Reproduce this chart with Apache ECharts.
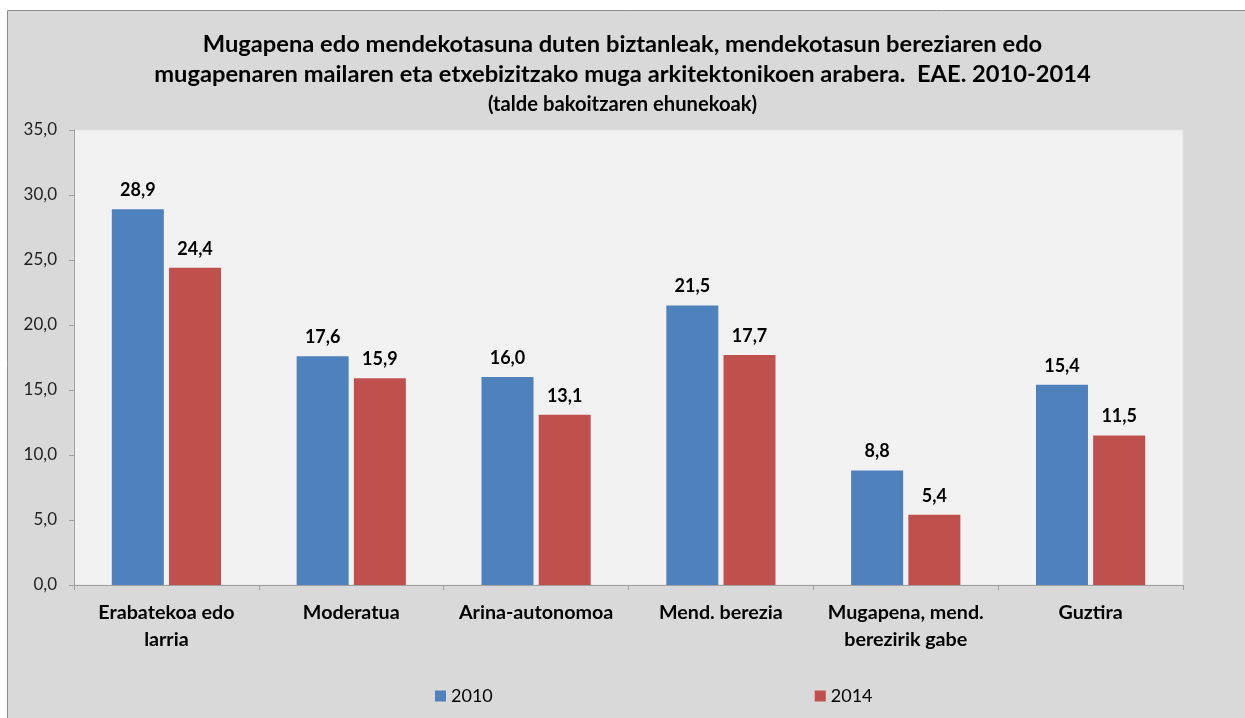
<!DOCTYPE html>
<html>
<head>
<meta charset="utf-8">
<script src="https://cdn.jsdelivr.net/npm/echarts@6/dist/echarts.min.js"></script>
<style>
html,body{margin:0;padding:0;background:#ffffff;}
#chart{width:1245px;height:718px;}
</style>
</head>
<body>
<div id="chart"></div>
<script>
const categories = ["Erabatekoa edo\nlarria", "Moderatua", "Arina-autonomoa", "Mend. berezia", "Mugapena, mend.\nberezirik gabe", "Guztira"];
const values2010 = [28.9, 17.6, 16.0, 21.5, 8.8, 15.4];
const values2014 = [24.4, 15.9, 13.1, 17.7, 5.4, 11.5];
const seriesNames = ["2010", "2014"];
const titleLines = ["Mugapena edo mendekotasuna duten biztanleak, mendekotasun bereziaren edo", "mugapenaren mailaren eta etxebizitzako muga arkitektonikoen arabera.  EAE. 2010-2014"];
const subtitle = "(talde bakoitzaren ehunekoak)";

const FONT = "Lato";
const fmt = v => v.toFixed(1).replace('.', ',');

const chart = echarts.init(document.getElementById('chart'));
chart.setOption({
  backgroundColor: '#ffffff',
  animation: false,
  textStyle: { fontFamily: FONT },
  graphic: [{
    type: 'rect',
    z: -100,
    shape: { x: 7.5, y: 10.5, width: 1300, height: 800 },
    style: { fill: '#d9d9d9', stroke: '#8c8c8c', lineWidth: 1 }
  }],
  title: {
    text: titleLines.join('\n'),
    subtext: subtitle,
    left: 'center',
    top: 24,
    itemGap: 4,
    textStyle: { fontFamily: FONT, fontSize: 23.7, fontWeight: 'bold', color: '#000', lineHeight: 30 },
    subtextStyle: { fontFamily: FONT, fontSize: 20.2, fontWeight: 'bold', color: '#000', lineHeight: 22 }
  },
  legend: {
    left: 430,
    top: 682,
    itemWidth: 11,
    itemHeight: 11,
    itemGap: 322,
    icon: 'rect',
    textStyle: { fontFamily: FONT, fontSize: 18, color: '#000' },
    data: seriesNames
  },
  grid: {
    left: 74, right: 62, top: 130, bottom: 133,
    show: true, backgroundColor: '#f2f2f2', borderColor: '#e4e4e4', borderWidth: 1
  },
  xAxis: {
    type: 'category',
    data: categories,
    axisLine: { lineStyle: { color: '#a0a0a0', width: 1 } },
    axisTick: { show: true, length: 5, lineStyle: { color: '#a0a0a0' } },
    axisLabel: { fontFamily: FONT, fontSize: 19.7, fontWeight: 'bold', color: '#000', lineHeight: 27, margin: 14, interval: 0 }
  },
  yAxis: {
    type: 'value',
    min: 0, max: 35, interval: 5,
    axisLine: { show: true, lineStyle: { color: '#a0a0a0', width: 1 } },
    axisTick: { show: true, length: 5, lineStyle: { color: '#a0a0a0' } },
    splitLine: { show: false },
    axisLabel: { fontFamily: FONT, fontSize: 17, color: '#222', margin: 17, formatter: fmt }
  },
  series: [
    {
      name: seriesNames[0], type: 'bar', data: values2010,
      barWidth: 52, barGap: '10%',
      itemStyle: { color: '#4f81bd' },
      label: { show: true, position: 'top', distance: 10, fontFamily: FONT, fontSize: 18, fontWeight: 'bold', color: '#000', formatter: p => fmt(p.value) }
    },
    {
      name: seriesNames[1], type: 'bar', data: values2014,
      barWidth: 52, barGap: '10%',
      itemStyle: { color: '#c0504d' },
      label: { show: true, position: 'top', distance: 10, fontFamily: FONT, fontSize: 18, fontWeight: 'bold', color: '#000', formatter: p => fmt(p.value) }
    }
  ]
});
</script>
</body>
</html>
